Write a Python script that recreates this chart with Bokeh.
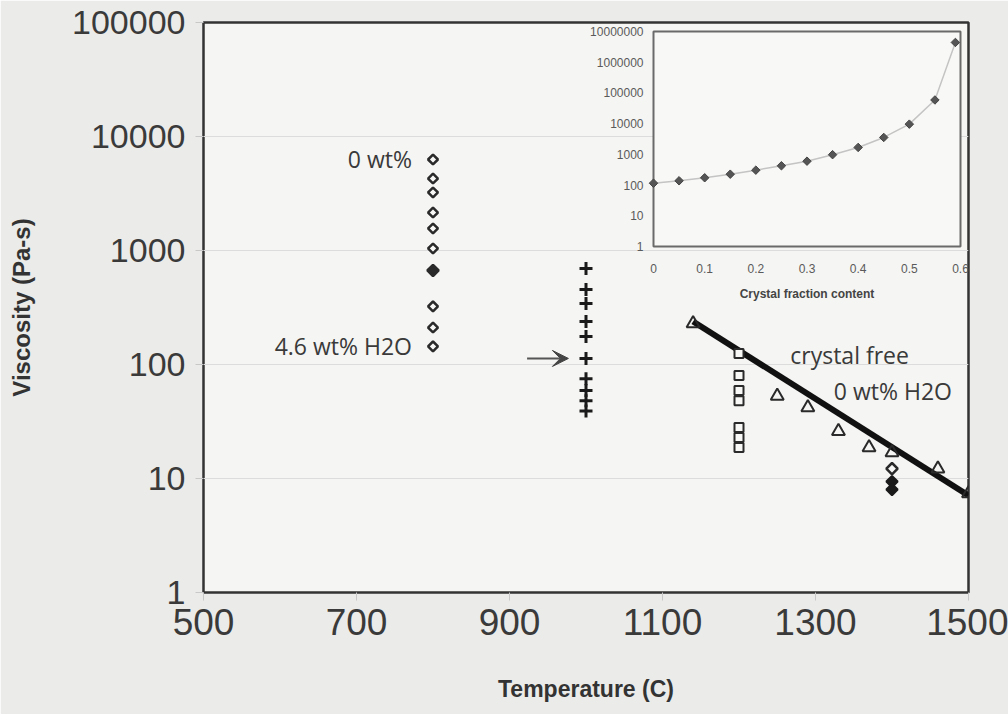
from bokeh.plotting import figure
from bokeh.models import Range1d, LogScale, FixedTicker, Arrow, VeeHead, NumeralTickFormatter
from bokeh.core.properties import value
from bokeh.embed import file_html
from bokeh.resources import INLINE
import math

# ---------------- data ----------------
x_ticks = [500, 700, 900, 1100, 1300, 1500]
y_ticks = [1, 10, 100, 1000, 10000, 100000]

# 0 wt% -> 4.6 wt% H2O series at 800 C (diamonds)
dia_T = [800, 800, 800, 800, 800, 800, 800, 800, 800]
dia_v = [6285, 4280, 3228, 2154, 1560, 1042, 323, 211, 144]
dia_fill_T = [800]
dia_fill_v = [668]

# series at 1000 C (plus signs)
plus_T = [1000] * 10
plus_v = [695, 455, 343, 238, 176, 113, 75, 59, 48, 39]

# series at 1200 C (squares)
sq_T = [1200] * 7
sq_v = [125, 80, 59, 48, 28, 22.9, 18.7]

# crystal-free, 0 wt% H2O (triangles)
tri_T = [1140, 1250, 1290, 1330, 1370, 1400, 1460, 1500]
tri_v = [229, 53, 42, 26, 18.7, 16.9, 12.2, 7.4]

# points at 1400 C
d14_T = [1400]
d14_v = [12.2]
d14_fill_T = [1400, 1400]
d14_fill_v = [9.4, 8.0]

# thick trend line
fit_T = [1140, 1500]
fit_v = [238, 7.1]

# inset: viscosity vs crystal fraction
inset_phi = [0, 0.05, 0.1, 0.15, 0.2, 0.25, 0.3, 0.35, 0.4, 0.45, 0.5, 0.55, 0.59]
inset_v = [115, 138, 173, 226, 306, 425, 600, 977, 1680, 3550, 9630, 58900, 4.4e6]
inset_xticks = [0, 0.1, 0.2, 0.3, 0.4, 0.5, 0.6]
inset_xlabels = ["0", "0.1", "0.2", "0.3", "0.4", "0.5", "0.6"]
inset_yticks = [1, 10, 100, 1000, 10000, 100000, 1000000, 10000000]
inset_ylabels = ["1", "10", "100", "1000", "10000", "100000", "1000000", "10000000"]

# annotations
label_0wt = ("0 wt%", 800, 6285)
label_46wt = ("4.6 wt% H2O", 800, 144)
label_cf = ("crystal free", 1267, 120)
label_cf2 = ("0 wt% H2O", 1324, 59)
arrow_T = (923, 977)
arrow_v = 113

# ---------------- figure ----------------
W, H = 1008, 714
FL, FR, FT, FB = 203, 968, 22, 592   # frame edges in page pixels
p = figure(width=W, height=H, x_range=Range1d(500, 1500), y_range=Range1d(1, 100000),
           y_axis_type="log", output_backend="svg", toolbar_location=None,
           min_border_left=FL, min_border_right=W - FR, min_border_top=FT, min_border_bottom=H - FB)
p.border_fill_color = "#ebebe9"
p.background_fill_color = "#f5f5f3"
p.outline_line_color = "#333333"
p.outline_line_width = 2.5

p.xgrid.grid_line_color = None
p.ygrid.grid_line_color = "#dcdcdc"

p.xaxis.ticker = FixedTicker(ticks=x_ticks)
p.yaxis.ticker = FixedTicker(ticks=y_ticks)
p.yaxis.formatter = NumeralTickFormatter(format="0")
for ax in (p.xaxis, p.yaxis):
    ax.axis_line_color = None
    ax.major_tick_line_color = "#c8c8c8"
    ax.major_tick_out = 8
    ax.major_tick_in = 0
    ax.minor_tick_line_color = None
    ax.major_label_text_color = "#3a3a3a"
    ax.axis_label_text_color = "#333333"
    ax.axis_label_text_font_style = "bold"

p.xaxis.major_label_text_font = "Liberation Sans"
p.xaxis.major_label_text_font_size = "37px"
p.xaxis.major_label_standoff = 8
p.xaxis.axis_label = "Temperature (C)"
p.xaxis.axis_label_text_font = "Liberation Sans"
p.xaxis.axis_label_text_font_size = "23px"
p.xaxis.axis_label_standoff = 38

p.yaxis.major_label_text_font = "Liberation Sans"
p.yaxis.major_label_text_font_size = "34px"
p.yaxis.major_label_standoff = 10
p.yaxis.axis_label = "Viscosity (Pa-s)"
p.yaxis.axis_label_text_font = "Liberation Sans"
p.yaxis.axis_label_text_font_size = "24px"
p.yaxis.axis_label_standoff = 34

# ---------------- inset placement (fractions of the main frame) ----------------
fx0, fx1 = (653 - FL) / (FR - FL), (960 - FL) / (FR - FL)
fy0, fy1 = (FB - 246) / (FB - FT), (FB - 31) / (FB - FT)
wx = 0.6 / (fx1 - fx0)
ix_start = -fx0 * wx
wy = 7 / (fy1 - fy0)
iy_start = -fy0 * wy
p.extra_x_ranges = {"ix": Range1d(ix_start, ix_start + wx)}
p.extra_y_ranges = {"iy": Range1d(10 ** iy_start, 10 ** (iy_start + wy))}
p.extra_y_scales = {"iy": LogScale()}

ik = dict(x_range_name="ix", y_range_name="iy")
p.quad(left=[0], right=[0.6], bottom=[1], top=[1e7], fill_color="#f8f8f6",
       line_color="#6a6a6a", line_width=2, **ik)
p.line(inset_phi, inset_v, line_color="#c4c4c4", line_width=1.5, **ik)
p.scatter(inset_phi, inset_v, marker="square", angle=math.pi / 4, size=6,
          fill_color="#555555", line_color="#444444", line_width=1, **ik)
p.text(x=[0] * len(inset_yticks), y=inset_yticks, text=inset_ylabels, x_offset=-10,
       text_align="right", text_baseline="middle", text_font_size="12px",
       text_font=value("Liberation Sans"), text_color="#5a5a5a", **ik)
p.text(x=inset_xticks, y=[1] * len(inset_xticks), text=inset_xlabels, y_offset=22,
       text_align="center", text_baseline="middle", text_font_size="12px",
       text_font=value("Liberation Sans"), text_color="#5a5a5a", **ik)
p.text(x=[0.3], y=[1], text=["Crystal fraction content"], y_offset=47,
       text_align="center", text_baseline="middle", text_font_size="12px",
       text_font_style="bold", text_font=value("Liberation Sans"), text_color="#444444", **ik)

# ---------------- main data ----------------
p.line(fit_T, fit_v, line_color="#111111", line_width=6)

p.scatter(dia_T, dia_v, marker="square", angle=math.pi / 4, size=7, fill_color="#f8f8f6",
          line_color="#2a2a2a", line_width=2.5)
p.scatter(dia_fill_T, dia_fill_v, marker="square", angle=math.pi / 4, size=8, fill_color="#2a2a2a",
          line_color="#2a2a2a", line_width=2.5)
p.scatter(plus_T, plus_v, marker="cross", size=13, line_color="#1a1a1a", line_width=3)
p.scatter(sq_T, sq_v, marker="square", size=9, fill_color="#f8f8f6", line_color="#2a2a2a", line_width=2)
p.scatter(tri_T, tri_v, marker="triangle", size=13, fill_color=None, line_color="#2a2a2a", line_width=2)
p.scatter(d14_T, d14_v, marker="square", angle=math.pi / 4, size=8, fill_color="#f8f8f6",
          line_color="#2a2a2a", line_width=2.5)
p.scatter(d14_fill_T, d14_fill_v, marker="square", angle=math.pi / 4, size=8, fill_color="#1a1a1a",
          line_color="#1a1a1a", line_width=2)

p.add_layout(Arrow(end=VeeHead(size=16, fill_color="#444444", line_color="#444444"),
                   x_start=arrow_T[0], y_start=arrow_v, x_end=arrow_T[1], y_end=arrow_v,
                   line_color="#555555", line_width=2))

txt = dict(text_font=value("Open Sans"), text_font_size="23px", text_color="#3a3a3a",
           text_baseline="middle")
for lab in (label_0wt, label_46wt):
    p.text(x=[lab[1]], y=[lab[2]], text=[lab[0]], x_offset=-21, text_align="right", **txt)
for lab in (label_cf, label_cf2):
    p.text(x=[lab[1]], y=[lab[2]], text=[lab[0]], text_align="left", **txt)

html = file_html(p, INLINE)
html = html.replace("<body>", '<body style="background:#ebebe9;">', 1)
open("out.html", "w").write(html)
